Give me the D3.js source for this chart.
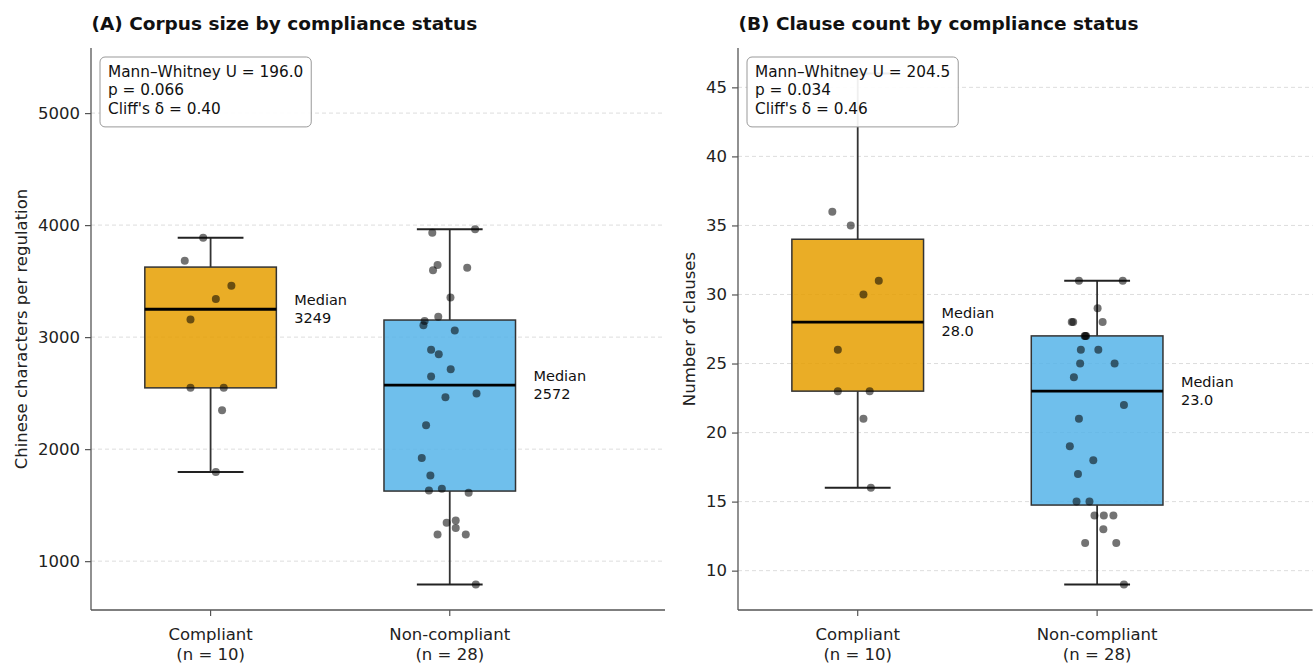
<!DOCTYPE html>
<html>
<head>
<meta charset="utf-8">
<script src="https://cdn.jsdelivr.net/npm/d3@7"></script>
<style>
  html, body { margin: 0; padding: 0; background: #fff; }
  svg { display: block; font-family: "DejaVu Sans", sans-serif; }
</style>
</head>
<body>
<svg id="chart" width="1316" height="663"></svg>
<script>
// ---------------- DATA ----------------
const categories = ["Compliant", "Non-compliant"];
const groupSizes = ["(n = 10)", "(n = 28)"];

const titleA = "(A) Corpus size by compliance status";
const titleB = "(B) Clause count by compliance status";
const yLabelA = "Chinese characters per regulation";
const yLabelB = "Number of clauses";

const yTicksA = [1000, 2000, 3000, 4000, 5000];
const yTicksB = [10, 15, 20, 25, 30, 35, 40, 45];

// Panel A: characters per regulation
const charsCompliant = [3887, 3681, 3458, 3340, 3158, 2547, 2547, 2348, 1797, 5353];
const charsCompliantJitter = [-0.031, -0.108, 0.087, 0.022, -0.084, -0.084, 0.055, 0.048, 0.022, 0.0];
const charsNonCompliant = [3931, 3962, 3643, 3598, 3619, 3354, 3181, 3143, 3107, 3060,
                           2887, 2848, 2714, 2648, 2496, 2464, 2214, 1920, 1765, 1631,
                           1646, 1610, 1342, 1363, 1295, 1238, 1238, 792];
const charsNonCompliantJitter = [-0.073, 0.106, -0.051, -0.070, 0.073, 0.003, -0.048, -0.105, -0.110, 0.021,
                                 -0.078, -0.046, 0.004, -0.078, 0.112, -0.018, -0.099, -0.117, -0.081, -0.087,
                                 -0.033, 0.079, -0.013, 0.025, 0.025, -0.051, 0.067, 0.109];

// Panel B: clause counts
const clausesCompliant = [36, 35, 31, 30, 26, 23, 23, 21, 16, 46];
const clausesCompliantJitter = [-0.106, -0.029, 0.088, 0.024, -0.083, -0.083, 0.050, 0.024, 0.055, 0.0];
const clausesNonCompliant = [31, 31, 29, 28, 28, 28, 27, 27, 27, 26, 26, 25, 25, 24,
                             22, 21, 19, 18, 17, 15, 15, 14, 14, 14, 13, 12, 12, 9];
const clausesNonCompliantJitter = [-0.076, 0.107, 0.002, -0.106, -0.100, 0.023, -0.052, -0.049, -0.046, -0.068,
                                   0.005, -0.071, 0.073, -0.097, 0.112, -0.076, -0.114, -0.016, -0.080, -0.086,
                                   -0.032, -0.011, 0.028, 0.068, 0.026, -0.050, 0.080, 0.112];

const statsA = ["Mann\u2013Whitney U = 196.0", "p = 0.066", "Cliff's \u03b4 = 0.40"];
const statsB = ["Mann\u2013Whitney U = 204.5", "p = 0.034", "Cliff's \u03b4 = 0.46"];

const boxColors = ["#E69F00", "#56B4E9"];

// ---------------- DRAWING ----------------
const svg = d3.select("#chart");
const TOP = 48, BOTTOM = 610;

function boxStats(values) {
  const s = values.slice().sort(d3.ascending);
  const q1 = d3.quantileSorted(s, 0.25);
  const med = d3.quantileSorted(s, 0.5);
  const q3 = d3.quantileSorted(s, 0.75);
  const iqr = q3 - q1;
  const lo = d3.min(s.filter(v => v >= q1 - 1.5 * iqr));
  const hi = d3.max(s.filter(v => v <= q3 + 1.5 * iqr));
  return { q1, med, q3, lo, hi };
}

function drawPanel(cfg) {
  const g = svg.append("g");
  const all = cfg.groups.flat();
  const [mn, mx] = d3.extent(all);
  const pad = (mx - mn) * 0.05;
  const y = d3.scaleLinear().domain([mn - pad, mx + pad]).range([BOTTOM, TOP]);
  const x = d3.scaleLinear().domain([-0.5, 1.9]).range([cfg.left, cfg.right]);
  const unit = x(1) - x(0);
  const boxW = 0.55 * unit;

  // grid
  g.append("g").selectAll("line").data(cfg.ticks).join("line")
    .attr("x1", cfg.left).attr("x2", cfg.right)
    .attr("y1", d => y(d)).attr("y2", d => y(d))
    .attr("stroke", "#d9d9d9").attr("stroke-width", 0.9)
    .attr("stroke-dasharray", "4,3");

  // boxes
  cfg.groups.forEach((vals, i) => {
    const st = boxStats(vals);
    const cx = x(i);
    const bg = g.append("g");
    // whiskers
    bg.append("line").attr("x1", cx).attr("x2", cx).attr("y1", y(st.q3)).attr("y2", y(st.hi))
      .attr("stroke", "#333").attr("stroke-width", 1.8);
    bg.append("line").attr("x1", cx).attr("x2", cx).attr("y1", y(st.q1)).attr("y2", y(st.lo))
      .attr("stroke", "#333").attr("stroke-width", 1.8);
    // caps
    [st.hi, st.lo].forEach(v => {
      bg.append("line").attr("x1", cx - boxW / 4).attr("x2", cx + boxW / 4)
        .attr("y1", y(v)).attr("y2", y(v))
        .attr("stroke", "#222").attr("stroke-width", 2);
    });
    // box
    bg.append("rect").attr("x", cx - boxW / 2).attr("width", boxW)
      .attr("y", y(st.q3)).attr("height", y(st.q1) - y(st.q3))
      .attr("fill", boxColors[i]).attr("fill-opacity", 0.85)
      .attr("stroke", "#333").attr("stroke-width", 1.5);
    // median
    bg.append("line").attr("x1", cx - boxW / 2).attr("x2", cx + boxW / 2)
      .attr("y1", y(st.med)).attr("y2", y(st.med))
      .attr("stroke", "#000").attr("stroke-width", 2.8);
    // median label
    const t = g.append("text").attr("x", x(i + 0.35)).attr("font-size", 14.5).attr("fill", "#111");
    t.append("tspan").attr("x", x(i + 0.35)).attr("y", y(st.med) - 3.8).text("Median");
    t.append("tspan").attr("x", x(i + 0.35)).attr("y", y(st.med) + 13.7).text(cfg.fmt(st.med));
  });

  // points
  cfg.groups.forEach((vals, i) => {
    g.append("g").selectAll("circle").data(vals).join("circle")
      .attr("cx", (d, k) => x(i + cfg.jitter[i][k]))
      .attr("cy", d => y(d))
      .attr("r", 4)
      .attr("fill", "#000").attr("fill-opacity", 0.55);
  });

  // axes spines
  const yAxis = d3.axisLeft(y).tickValues(cfg.ticks).tickSize(6).tickPadding(5).tickFormat(d3.format("d"));
  const ya = g.append("g").attr("transform", `translate(${cfg.left},0)`).call(yAxis);
  ya.select(".domain").remove();
  ya.selectAll(".tick line").attr("stroke", "#555").attr("stroke-width", 1.2);
  ya.selectAll(".tick text").attr("font-size", 16.5).attr("fill", "#222")
    .attr("font-family", "DejaVu Sans, sans-serif");
  g.append("line").attr("x1", cfg.left).attr("x2", cfg.left).attr("y1", TOP).attr("y2", BOTTOM)
    .attr("stroke", "#555").attr("stroke-width", 1.3);
  g.append("line").attr("x1", cfg.left).attr("x2", cfg.right).attr("y1", BOTTOM).attr("y2", BOTTOM)
    .attr("stroke", "#555").attr("stroke-width", 1.3);

  // x ticks
  categories.forEach((c, i) => {
    g.append("line").attr("x1", x(i)).attr("x2", x(i)).attr("y1", BOTTOM).attr("y2", BOTTOM + 6)
      .attr("stroke", "#555").attr("stroke-width", 1.2);
    const t = g.append("text").attr("text-anchor", "middle").attr("font-size", 16.5).attr("fill", "#222");
    t.append("tspan").attr("x", x(i)).attr("y", 640).text(c);
    t.append("tspan").attr("x", x(i)).attr("y", 660).text(groupSizes[i]);
  });

  // y label
  g.append("text").attr("transform", `translate(${cfg.yLabelX},${(TOP + BOTTOM) / 2}) rotate(-90)`)
    .attr("text-anchor", "middle").attr("dominant-baseline", "central")
    .attr("font-size", 16.5).attr("fill", "#222").text(cfg.yLabel);

  // title
  g.append("text").attr("x", cfg.left + 0.5).attr("y", 29.5)
    .attr("font-size", 18.5).attr("font-weight", "bold").attr("fill", "#111").text(cfg.title);

  // stats box
  const bx = cfg.left + 9, by = TOP + 9, padX = 8, lh = 18.3;
  const sb = g.append("g");
  const rect = sb.append("rect");
  const st = sb.append("text").attr("font-size", 15.3).attr("fill", "#111");
  cfg.stats.forEach((s, k) => {
    st.append("tspan").attr("x", bx + padX).attr("y", by + 20 + k * lh).text(s);
  });
  const tw = st.node().getBBox().width;
  rect.attr("x", bx).attr("y", by).attr("width", tw + 2 * padX).attr("height", 3 * lh + 15)
    .attr("rx", 5).attr("ry", 5)
    .attr("fill", "#fff").attr("fill-opacity", 0.92)
    .attr("stroke", "#999").attr("stroke-width", 1);
}

drawPanel({
  left: 91, right: 665, groups: [charsCompliant, charsNonCompliant],
  jitter: [charsCompliantJitter, charsNonCompliantJitter],
  ticks: yTicksA, fmt: v => d3.format("d")(Math.round(v)),
  title: titleA, yLabel: yLabelA, yLabelX: 21, stats: statsA
});
drawPanel({
  left: 738, right: 1312.6, groups: [clausesCompliant, clausesNonCompliant],
  jitter: [clausesCompliantJitter, clausesNonCompliantJitter],
  ticks: yTicksB, fmt: v => d3.format(".1f")(v),
  title: titleB, yLabel: yLabelB, yLabelX: 689, stats: statsB
});
</script>
</body>
</html>
